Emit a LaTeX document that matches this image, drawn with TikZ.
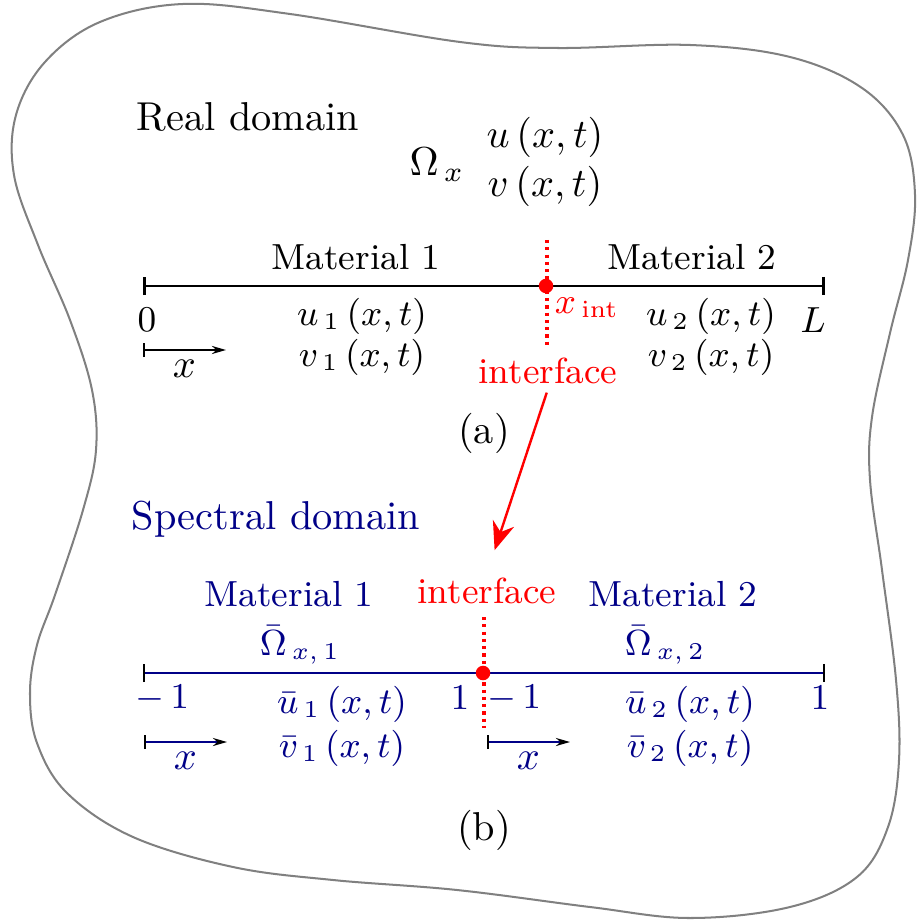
\documentclass[tikz,border=0pt]{standalone}
\usepackage{amsmath}
\usepackage{tikz}
\usetikzlibrary{arrows.meta, positioning, calc}
\definecolor{specblue}{RGB}{0,0,135}
\tikzset{
  blob/.style={draw=gray, line width=0.5pt},
  realaxis/.style={line width=0.65pt, {Bar[width=4.5pt]}-{Bar[width=4.5pt]}},
  specaxis/.style={specblue, line width=0.55pt, {Bar[width=4.5pt,color=black]}-{Bar[width=4.5pt,color=black]}},
  xarrow/.style={line width=0.5pt, {Bar[width=3.5pt,color=black]}-{Stealth[length=3.5pt,width=2pt,color=black]}},
  ifline/.style={red, densely dotted, line width=0.8pt},
  ifdot/.style={circle, fill=red, inner sep=0pt, minimum size=3.6pt},
  ifarrow/.style={red, line width=0.6pt, -{Stealth[length=7pt,width=5.5pt]}},
  lbl/.style={font=\small, inner sep=1pt}
}

\begin{document}
\begin{tikzpicture}[x=0.248pt, y=-0.248pt]
    \useasboundingbox (0,0) rectangle (917,922);

    % Rand van het domein
    \draw[blob] plot[smooth cycle, tension=0.6] coordinates {
      (460,42) (557,48) (690,45) (790,57) (862,88) (903,135) (915,195) (908,260)
      (890,333) (872,417) (870,480) (882,570) (896,680) (899,760) (888,827)
      (857,877) (790,907) (690,918) (590,907) (457,890) (333,880) (233,867)
      (133,837) (67,793) (37,743) (30,693) (37,645) (55,595) (83,510) (96,450)
      (92,390) (70,320) (38,245) (14,175) (16,115) (45,62) (100,22) (183,4) (290,14)};

    % (a) reeel domein
    \node (realtitle) at (248,117) {Real domain};
    \node (omega) at (437,165) {$\Omega_{\,x}$};
    \node (ureal) at (545,137) {$u\,(x,t)$};
    \node (vreal) at (545,186) {$v\,(x,t)$};

    \coordinate (a0) at (143,286);
    \coordinate (aL) at (825,286);
    \coordinate (ifatop) at (547,240);
    \coordinate (ifabot) at (547,348);
    \draw[realaxis] (a0) -- (aL);
    \draw[ifline] (ifatop) -- (ifabot);
    \node[ifdot] (dota) at (546,286) {};

    \node[lbl] (mat1a) at (356,257) {Material 1};
    \node[lbl] (mat2a) at (692,257) {Material 2};
    \node[lbl] (zeroa) at (147,320) {$0$};
    \node[lbl] (lenL) at (813,320) {$L$};
    \node[lbl] (u1) at (362,316) {$u_{\,1}\,(x,t)$};
    \node[lbl] (v1) at (362,357) {$v_{\,1}\,(x,t)$};
    \node[lbl] (u2) at (711,316) {$u_{\,2}\,(x,t)$};
    \node[lbl] (v2) at (711,357) {$v_{\,2}\,(x,t)$};
    \node[lbl, red] (xint) at (587,308) {$x_{\,\mathrm{int}}$};
    \node[lbl, red] (ifa) at (548,371) {interface};

    \coordinate (xa0) at (143,350);
    \coordinate (xa1) at (226,350);
    \draw[xarrow] (xa0) -- node[below=-1pt] {$x$} (xa1);

    \node (capa) at (484,433) {(a)};

    % (b) spectraal domein
    \node[specblue] (spectitle) at (276,519) {Spectral domain};
    \node[lbl, specblue] (mat1b) at (289,594) {Material 1};
    \node[lbl, red] (ifb) at (487,591) {interface};
    \node[lbl, specblue] (mat2b) at (673,594) {Material 2};
    \node[lbl, specblue] (omb1) at (300,645) {$\bar{\Omega}_{\,x,\,1}$};
    \node[lbl, specblue] (omb2) at (665,645) {$\bar{\Omega}_{\,x,\,2}$};

    % overgang naar het spectrale domein
    \draw[ifarrow, shorten <=1pt, shorten >=6pt] (ifa.south) -- (ifb.north);

    \coordinate (b0) at (143,673);
    \coordinate (b1) at (825,673);
    \coordinate (ifbtop) at (484,617);
    \coordinate (ifbbot) at (484,728);
    \draw[specaxis] (b0) -- (b1);
    \draw[ifline] (ifbtop) -- (ifbbot);
    \node[ifdot] (dotb) at (483,673) {};

    \node[lbl, specblue] (m1b) at (162,698) {$-\,1$};
    \node[lbl, specblue] (p1b) at (460,698) {$1$};
    \node[lbl, specblue] (m1c) at (514,698) {$-\,1$};
    \node[lbl, specblue] (p1c) at (820,698) {$1$};
    \node[lbl, specblue] (ub1) at (342,704) {$\bar{u}_{\,1}\,(x,t)$};
    \node[lbl, specblue] (vb1) at (342,748) {$\bar{v}_{\,1}\,(x,t)$};
    \node[lbl, specblue] (ub2) at (690,704) {$\bar{u}_{\,2}\,(x,t)$};
    \node[lbl, specblue] (vb2) at (690,748) {$\bar{v}_{\,2}\,(x,t)$};

    \coordinate (xb0) at (144,742);
    \coordinate (xb1) at (227,742);
    \coordinate (xc0) at (487,742);
    \coordinate (xc1) at (570,742);
    \draw[xarrow, specblue] (xb0) -- node[below=-1pt] {$x$} (xb1);
    \draw[xarrow, specblue] (xc0) -- node[below=-1pt] {$x$} (xc1);

    \node (capb) at (484,830) {(b)};
\end{tikzpicture}
\end{document}
